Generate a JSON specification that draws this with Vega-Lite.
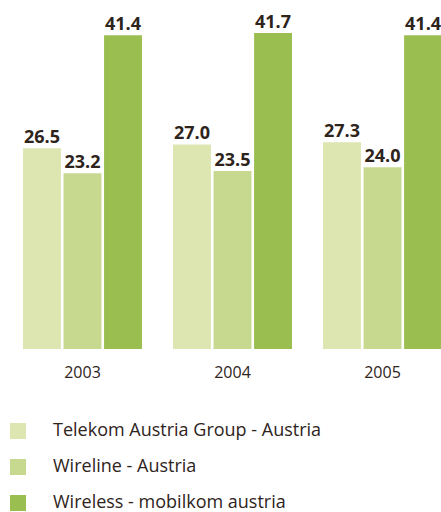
{
  "$schema": "https://vega.github.io/schema/vega-lite/v6.json",
  "width": 419,
  "height": 341,
  "autosize": {"type": "none"},
  "padding": {"left": 23, "top": 8, "right": 0, "bottom": 163},
  "background": "white",
  "config": {"view": {"stroke": null}, "font": "Open Sans"},
  "data": {
    "values": [
      {"year": "2003", "series": "Telekom Austria Group - Austria", "value": 26.5},
      {"year": "2003", "series": "Wireline - Austria", "value": 23.2},
      {"year": "2003", "series": "Wireless - mobilkom austria", "value": 41.4},
      {"year": "2004", "series": "Telekom Austria Group - Austria", "value": 27.0},
      {"year": "2004", "series": "Wireline - Austria", "value": 23.5},
      {"year": "2004", "series": "Wireless - mobilkom austria", "value": 41.7},
      {"year": "2005", "series": "Telekom Austria Group - Austria", "value": 27.3},
      {"year": "2005", "series": "Wireline - Austria", "value": 24.0},
      {"year": "2005", "series": "Wireless - mobilkom austria", "value": 41.4}
    ]
  },
  "encoding": {
    "x": {
      "field": "year", "type": "nominal",
      "scale": {"paddingInner": 0.207, "paddingOuter": 0},
      "axis": {"title": null, "labelAngle": 0, "ticks": false, "domain": false, "labelPadding": 15, "labelFontSize": 16, "labelColor": "#2e241c", "labelFont": "Open Sans"}
    },
    "xOffset": {
      "field": "series", "type": "nominal",
      "sort": ["Telekom Austria Group - Austria", "Wireline - Austria", "Wireless - mobilkom austria"],
      "scale": {"paddingInner": 0.065, "paddingOuter": 0}
    },
    "y": {
      "field": "value", "type": "quantitative",
      "scale": {"domain": [0, 45], "nice": false},
      "axis": null
    }
  },
  "layer": [
    {
      "mark": {"type": "bar"},
      "encoding": {
        "color": {
          "field": "series", "type": "nominal",
          "scale": {
            "domain": ["Telekom Austria Group - Austria", "Wireline - Austria", "Wireless - mobilkom austria"],
            "range": ["#dde6b1", "#c6d98f", "#9bbe50"]
          },
          "legend": {
            "title": null,
            "orient": "none",
            "legendX": -14,
            "legendY": 414,
            "symbolType": "square",
            "symbolSize": 256,
            "symbolStrokeWidth": 0,
            "labelFontSize": 18,
            "labelColor": "#2e241c",
            "labelFont": "Open Sans",
            "labelOffset": 26,
            "rowPadding": 18,
            "labelLimit": 400
          }
        }
      }
    },
    {
      "mark": {"type": "text", "baseline": "alphabetic", "dy": -5, "fontSize": 18, "fontWeight": "bold", "color": "#2e241c", "font": "Open Sans"},
      "encoding": {
        "text": {"field": "value", "type": "quantitative", "format": ".1f"}
      }
    }
  ]
}
